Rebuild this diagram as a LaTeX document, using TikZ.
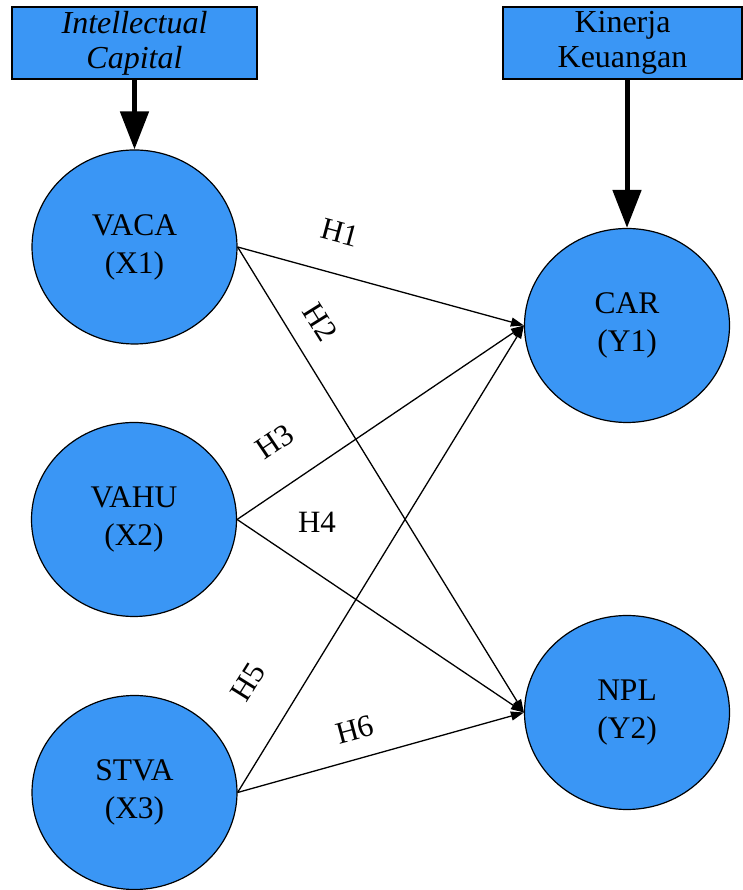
\documentclass[tikz,border=0pt]{standalone}
\usepackage{fontspec}
\setmainfont{Liberation Serif}
\usetikzlibrary{shapes.geometric,arrows.meta}

\definecolor{nodeblue}{RGB}{58,150,245}

\tikzset{
  varnode/.style={draw,line width=1.2pt,fill=nodeblue,ellipse,inner sep=0pt,
    minimum width=205pt,minimum height=194pt,align=center,
    font=\fontsize{31.5}{38}\selectfont},
  groupbox/.style={draw,line width=1.5pt,fill=nodeblue,rectangle,inner sep=0pt,
    minimum height=72pt,align=center,font=\fontsize{32}{35}\selectfont},
  bigarrow/.style={line width=5pt,-{Triangle[length=38pt,width=28pt]}},
  hyparrow/.style={line width=1.3pt,-{Triangle[length=13pt,width=9pt]}},
  hyplabel/.style={inner sep=0pt,font=\fontsize{31}{31}\selectfont}
}

\begin{document}
\begin{tikzpicture}[x=1pt,y=1pt]
  \useasboundingbox (0,0) rectangle (742,890);

  \node[groupbox,minimum width=245pt] (ic) at (134.5,847) {\itshape Intellectual\\\itshape Capital};
  \node[groupbox,minimum width=239pt] (kk) at (622.5,847) {Kinerja\\Keuangan};

  \node[varnode] (vaca) at (134.5,643) {VACA\\(X1)};
  \node[varnode] (vahu) at (134,370.5) {VAHU\\(X2)};
  \node[varnode] (stva) at (134.5,97.5) {STVA\\(X3)};
  \node[varnode] (car) at (627,564.5) {CAR\\(Y1)};
  \node[varnode] (npl) at (627,177.5) {NPL\\(Y2)};

  \draw[bigarrow] (ic.south -| vaca.north) -- (vaca.north);
  \draw[bigarrow] (kk.south -| car.north) -- (car.north);

  % hypothesis paths
  \draw[hyparrow] (vaca.east) -- (car.west);
  \draw[hyparrow] (vaca.east) -- (npl.west);
  \draw[hyparrow] (vahu.east) -- (car.west);
  \draw[hyparrow] (vahu.east) -- (npl.west);
  \draw[hyparrow] (stva.east) -- (car.west);
  \draw[hyparrow] (stva.east) -- (npl.west);

  \node[hyplabel,rotate=-15] (h1) at (340,657) {H1};
  \node[hyplabel,rotate=-58] (h2) at (320,568) {H2};
  \node[hyplabel,rotate=34] (h3) at (275,448) {H3};
  \node[hyplabel] (h4) at (317,368) {H4};
  \node[hyplabel,rotate=58] (h5) at (248,208) {H5};
  \node[hyplabel,rotate=15] (h6) at (355,160) {H6};
\end{tikzpicture}
\end{document}
